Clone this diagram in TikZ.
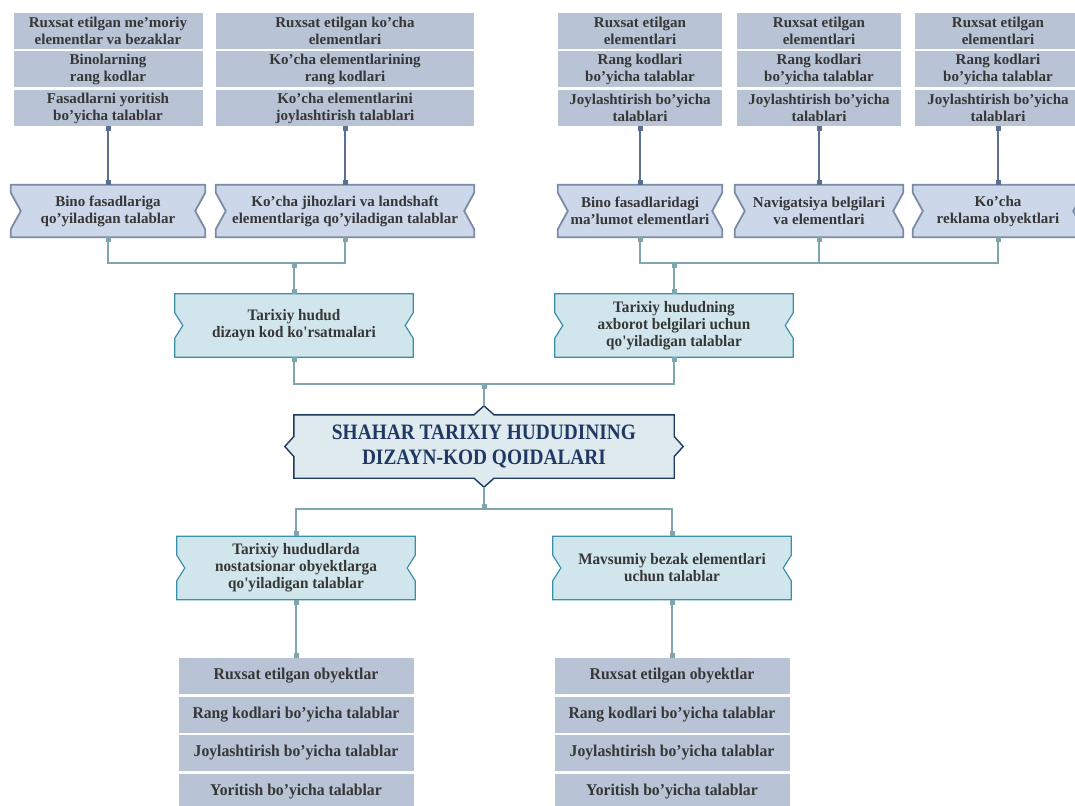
\documentclass[tikz,border=0pt]{standalone}
\usepackage{fontspec}
\setmainfont{Liberation Serif}
\newfontfamily\condfont[FakeStretch=0.95]{Liberation Serif}
\newfontfamily\titlefont[FakeStretch=0.88]{Liberation Serif}
\usetikzlibrary{calc,arrows.meta,backgrounds}

\definecolor{stackfill}{HTML}{B8C4D6}
\definecolor{bluefill}{HTML}{CCD8EA}
\definecolor{blueline}{HTML}{7B8BA6}
\definecolor{darklink}{HTML}{5B6F93}
\definecolor{teallink}{HTML}{7FA5AE}
\definecolor{tealfill}{HTML}{D1E6EC}
\definecolor{tealline}{HTML}{3A8FA9}
\definecolor{mainfill}{HTML}{DFEAEE}
\definecolor{mainline}{HTML}{1E3A5F}
\definecolor{maintext}{HTML}{1F3864}
\definecolor{boxtext}{HTML}{363636}

% box with a notch cut into its left and right sides
\newcommand\notchshape[4]{%
  \path[#4] (#1.north west) -- (#1.north east) -- ($(#1.north east)+(0,#2)$)
    -- ($(#1.east)+(-#3,0)$) -- ($(#1.south east)+(0,-#2)$) -- (#1.south east)
    -- (#1.south west) -- ($(#1.south west)+(0,-#2)$) -- ($(#1.west)+(#3,0)$)
    -- ($(#1.north west)+(0,#2)$) -- cycle;}

\begin{document}
\begin{tikzpicture}[x=1pt,y=-1pt,
  stackbox/.style={fill=stackfill, text=boxtext, align=center, inner sep=0pt,
    minimum height=36, font=\bfseries\fontsize{15}{17}\selectfont},
  lowbox/.style={stackbox, minimum width=235, font=\condfont\bfseries\fontsize{16.5}{17}\selectfont},
  bluebox/.style={text=boxtext, align=center, inner sep=0pt, minimum height=52,
    font=\bfseries\fontsize{15}{17}\selectfont},
  tealbox/.style={text=boxtext, align=center, inner sep=0pt, minimum width=238,
    minimum height=63, font=\condfont\bfseries\fontsize{16}{17}\selectfont},
  mainbox/.style={text=maintext, align=center, inner sep=0pt, minimum width=380,
    minimum height=63, font=\titlefont\bfseries\fontsize{22}{25}\selectfont},
  dlink/.style={draw=darklink, line width=2pt},
  tlink/.style={draw=teallink, line width=2pt},
  sqboth/.style={{Square[length=5pt,width=5pt]}-{Square[length=5pt,width=5pt]}},
  sqstart/.style={{Square[length=5pt,width=5pt]}-},
  sqend/.style={-{Square[length=5pt,width=5pt]}}]

\useasboundingbox (0,0) rectangle (1075,805);

% top stacks
\foreach \i/\x/\w/\ta/\tb/\tc in {
  1/108/189/{Ruxsat etilgan me’moriy\\elementlar va bezaklar}/{Binolarning\\rang kodlar}/{Fasadlarni yoritish\\bo’yicha talablar},
  2/345/258/{Ruxsat etilgan ko’cha\\elementlari}/{Ko’cha elementlarining\\rang kodlari}/{Ko’cha elementlarini\\joylashtirish talablari},
  3/640/164/{Ruxsat etilgan\\elementlari}/{Rang kodlari\\bo’yicha talablar}/{Joylashtirish bo’yicha\\talablari},
  4/819/164/{Ruxsat etilgan\\elementlari}/{Rang kodlari\\bo’yicha talablar}/{Joylashtirish bo’yicha\\talablari},
  5/998/166/{Ruxsat etilgan\\elementlari}/{Rang kodlari\\bo’yicha talablar}/{Joylashtirish bo’yicha\\talablari}}{
  \node[stackbox, minimum width=\w] (t\i-a) at (\x,31) {\ta};
  \node[stackbox, minimum width=\w] (t\i-b) at (\x,69) {\tb};
  \node[stackbox, minimum width=\w] (t\i-c) at (\x,108) {\tc};
}

% notched boxes, first level
\node[bluebox, minimum width=194] (n1) at (108,211) {Bino fasadlariga\\qo’yiladigan talablar};
\node[bluebox, minimum width=258] (n2) at (345,211) {Ko’cha jihozlari va landshaft\\elementlariga qo’yiladigan talablar};
\node[bluebox, minimum width=164] (n3) at (640,211) {Bino fasadlaridagi\\ma’lumot elementlari};
\node[bluebox, minimum width=168] (n4) at (819,211) {Navigatsiya belgilari\\va elementlari};
\node[bluebox, minimum width=170] (n5) at (998,211) {Ko’cha\\reklama obyektlari};

% second level
\node[tealbox] (h1) at (294,325.5) {Tarixiy hudud\\dizayn kod ko'rsatmalari};
\node[tealbox] (h2) at (674,325.5) {Tarixiy hududning\\axborot belgilari uchun\\qo'yiladigan talablar};

% centre
\node[mainbox] (c) at (484,446.5) {SHAHAR TARIXIY HUDUDINING\\DIZAYN-KOD QOIDALARI};
\coordinate (cTop) at ($(c.north)+(0,-9)$);
\coordinate (cBot) at ($(c.south)+(0,9)$);

% lower branch
\node[tealbox] (b1) at (296,568) {Tarixiy hududlarda\\nostatsionar obyektlarga\\qo'yiladigan talablar};
\node[tealbox] (b2) at (672,568) {Mavsumiy bezak elementlari\\uchun talablar};

\foreach \s/\x in {s1/296, s2/672}{
  \node[lowbox] (\s-a) at (\x,676) {Ruxsat etilgan obyektlar};
  \node[lowbox] (\s-b) at (\x,715) {Rang kodlari bo’yicha talablar};
  \node[lowbox] (\s-c) at (\x,753) {Joylashtirish bo’yicha talablar};
  \node[lowbox] (\s-d) at (\x,792) {Yoritish bo’yicha talablar};
}

% box outlines behind the texts
\begin{scope}[on background layer]
  \fill[white] (0,0) rectangle (1075,805);
  \foreach \n in {n1,n2,n3,n4,n5}
    \notchshape{\n}{8}{10}{fill=bluefill, draw=blueline, line width=1.8pt};
  \foreach \n in {h1,h2,b1,b2}
    \notchshape{\n}{19}{8}{fill=tealfill, draw=tealline, line width=1.2pt};
  \path[fill=mainfill, draw=mainline, line width=1.4pt]
    (c.north west) -- ($(c.north)+(-10,0)$) -- (cTop) -- ($(c.north)+(10,0)$)
    -- (c.north east) -- ($(c.east)+(0,-10)$) -- ($(c.east)+(9,0)$) -- ($(c.east)+(0,10)$)
    -- (c.south east) -- ($(c.south)+(10,0)$) -- (cBot) -- ($(c.south)+(-10,0)$)
    -- (c.south west) -- ($(c.west)+(0,10)$) -- ($(c.west)+(-9,0)$) -- ($(c.west)+(0,-10)$)
    -- cycle;
\end{scope}

% connectors
\coordinate (jA) at (294,263);
\coordinate (jB) at (674,263);
\coordinate (jC) at (484,384);
\coordinate (jD) at (484,509);

\foreach \i in {1,...,5}
  \draw[dlink, sqboth] (t\i-c.south) -- (n\i.north);

\draw[tlink, sqboth] (n1.south) |- (jA) -| (n2.south);
\draw[tlink, sqboth] (n3.south) |- (jB) -| (n5.south);
\draw[tlink, sqstart] (n4.south) -- (n4.south |- jB);
\draw[tlink, sqboth] (jA) -- (h1.north);
\draw[tlink, sqboth] (jB) -- (h2.north);

\draw[tlink, sqboth] (h1.south) |- (jC) -| (h2.south);
\draw[tlink, sqstart] (jC) -- (cTop);

\draw[tlink, sqend] (cBot) -- (jD);
\draw[tlink, sqboth] (b1.north) |- (jD) -| (b2.north);
\draw[tlink, sqboth] (b1.south) -- (s1-a.north);
\draw[tlink, sqboth] (b2.south) -- (s2-a.north);
\end{tikzpicture}
\end{document}
